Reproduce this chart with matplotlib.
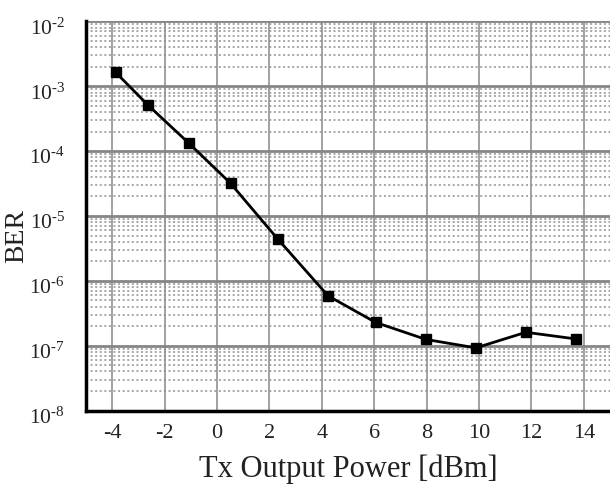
import matplotlib
matplotlib.use('Agg')
import matplotlib.pyplot as plt
import matplotlib.transforms as mtransforms
from matplotlib.ticker import LogLocator, NullFormatter

# Tx output power [dBm] and measured BER
power = [-3.87, -2.63, -1.07, 0.52, 2.31, 4.24, 6.06, 7.97, 9.88, 11.79, 13.70]
ber = [1.64e-3, 5.1e-4, 1.32e-4, 3.18e-5, 4.45e-6, 5.87e-7,
       2.28e-7, 1.25e-7, 9.25e-8, 1.61e-7, 1.27e-7]

x_ticks = [-4, -2, 0, 2, 4, 6, 8, 10, 12, 14]
y_ticks = [1e-8, 1e-7, 1e-6, 1e-5, 1e-4, 1e-3, 1e-2]
y_exps = [-8, -7, -6, -5, -4, -3, -2]

plt.rcParams['font.family'] = ['Liberation Serif', 'DejaVu Serif']
plt.rcParams['mathtext.fontset'] = 'custom'
plt.rcParams['mathtext.rm'] = 'Liberation Serif'
plt.rcParams['mathtext.it'] = 'Liberation Serif:italic'

fig = plt.figure(figsize=(6.1, 4.87), dpi=100)
ax = fig.add_axes([0.141, 0.157, 0.859, 0.799])

ax.set_yscale('log')
ax.set_xlim(-5, 15)
ax.set_ylim(1e-8, 1e-2)

ax.set_xticks(x_ticks)
ax.set_xticklabels([str(v) for v in x_ticks])
ax.set_yticks(y_ticks)
ax.set_yticklabels([r'$\mathrm{10}^{\mathrm{\text{-}%d}}$' % (-e) for e in y_exps])
ax.yaxis.set_minor_locator(LogLocator(base=10, subs=range(2, 10), numticks=20))
ax.yaxis.set_minor_formatter(NullFormatter())

# grid: major solid, minor dotted
ax.grid(True, which='major', axis='x', color='#9a9a9a', linewidth=1.3, linestyle='-')
ax.grid(True, which='major', axis='y', color='#858585', linewidth=2.0, linestyle='-')
ax.grid(True, which='minor', axis='y', color='#8f8f8f', linewidth=1.1, linestyle=(0, (1.3, 1.7)))
ax.set_axisbelow(True)

ax.plot(power, ber, color='black', linewidth=2.0, marker='s', markersize=7,
        markerfacecolor='black', markeredgecolor='black', zorder=3)

for side in ['top', 'right']:
    ax.spines[side].set_visible(False)
for side in ['left', 'bottom']:
    ax.spines[side].set_linewidth(2.5)
    ax.spines[side].set_color('black')

ax.tick_params(which='both', length=0)
ax.tick_params(axis='x', labelsize=16, pad=10, colors='#222222')
ax.tick_params(axis='y', labelsize=15.5, pad=15, colors='#222222')

# nudge y tick labels down a little, as in the reference
shift = mtransforms.ScaledTranslation(0, -5 / 100, fig.dpi_scale_trans)
for lbl in ax.get_yticklabels():
    lbl.set_transform(lbl.get_transform() + shift)

ax.set_xlabel('Tx Output Power [dBm]', fontsize=22, color='#222222', labelpad=8)
ax.set_ylabel('BER', fontsize=20, color='#222222')
ax.yaxis.set_label_coords(-0.108, 0.449)

plt.savefig('out.png', dpi=100)
plt.close()
